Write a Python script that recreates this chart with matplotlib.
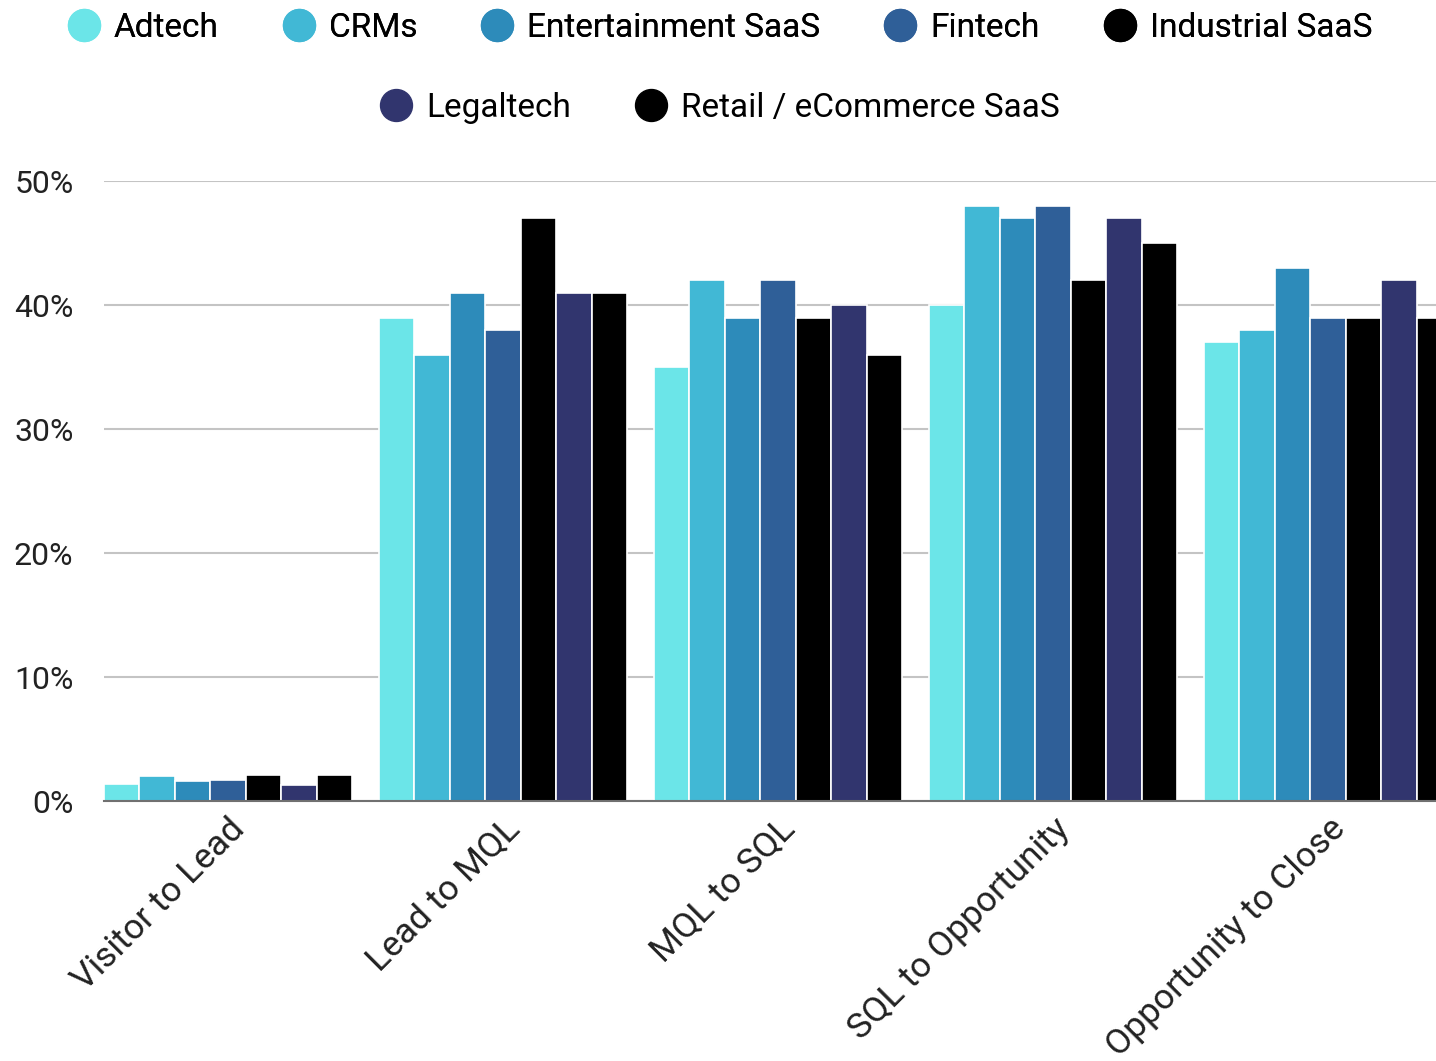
import matplotlib
matplotlib.use('Agg')
import matplotlib.pyplot as plt
from matplotlib.lines import Line2D

stages = ["Visitor to Lead", "Lead to MQL", "MQL to SQL", "SQL to Opportunity", "Opportunity to Close"]
industries = ["Adtech", "CRMs", "Entertainment SaaS", "Fintech", "Industrial SaaS",
              "Legaltech", "Retail / eCommerce SaaS"]
colors = ["#6be5e8", "#41b8d5", "#2d8bba", "#2f5f98", "#000000", "#31356e", "#000000"]

adtech = [1.4, 39, 35, 40, 37]
crms = [2.0, 36, 42, 48, 38]
entertainment = [1.6, 41, 39, 47, 43]
fintech = [1.7, 38, 42, 48, 39]
industrial = [2.1, 47, 39, 42, 39]
legaltech = [1.3, 41, 40, 47, 42]
retail = [2.1, 41, 36, 45, 39]
series = [adtech, crms, entertainment, fintech, industrial, legaltech, retail]

yticks = [0, 10, 20, 30, 40, 50]

plt.rcParams['font.family'] = ['Roboto', 'DejaVu Sans']

fig = plt.figure(figsize=(14.36, 10.61), dpi=100)
ax = fig.add_axes([0.0724, 0.245, 0.9276, 0.5843])

n = len(industries)
step = 248 / 275 / n
for j, vals in enumerate(series):
    xs = [i - 0.451 + step * j + step / 2 for i in range(len(stages))]
    ax.bar(xs, vals, width=step, color=colors[j], edgecolor='white', linewidth=1.2,
           zorder=3)

ax.set_ylim(0, 50)
ax.set_xlim(-0.451, -0.451 + 1332 / 275)
ax.set_yticks(yticks)
ax.set_yticklabels([f"{t}%" for t in yticks], fontsize=23, color='#222222')
ax.yaxis.grid(True, color='#c4c4c4', linewidth=1.5, zorder=0)
ax.tick_params(axis='y', length=0, pad=22)
ax.tick_params(axis='x', length=0, pad=8)
ax.set_xticks([i + 0.0 for i in range(len(stages))])
ax.set_xticklabels(stages, rotation=45, ha='right', rotation_mode='anchor',
                   fontsize=25.5, color='#222222')
for s in ['top', 'right', 'left']:
    ax.spines[s].set_visible(False)
ax.spines['bottom'].set_color('#707070')
ax.spines['bottom'].set_linewidth(1.5)
ax.spines['bottom'].set_zorder(4)

handles = [Line2D([], [], marker='o', linestyle='', markersize=23,
                  markerfacecolor=c, markeredgecolor=c) for c in colors]
leg1 = fig.legend(handles[:5], industries[:5], loc='center', bbox_to_anchor=(0.5, 1 - 28 / 1061),
                  ncol=5, frameon=False, fontsize=24, handletextpad=0.3, columnspacing=1.8,
                  handlelength=1.2)
fig.add_artist(leg1)
fig.legend(handles[5:], industries[5:], loc='center', bbox_to_anchor=(0.5, 1 - 108 / 1061),
           ncol=2, frameon=False, fontsize=24, handletextpad=0.3, columnspacing=1.8,
           handlelength=1.2)

plt.savefig('out.png', dpi=100)
